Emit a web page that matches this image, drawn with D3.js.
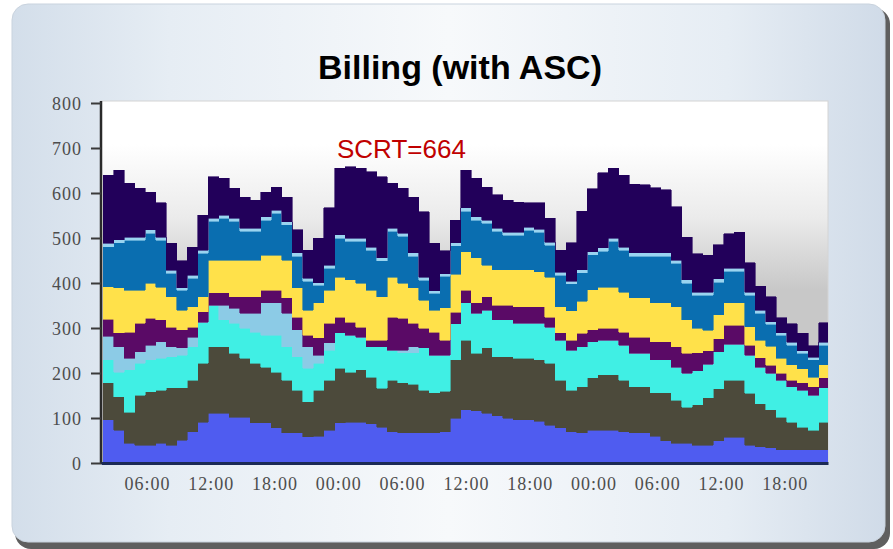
<!DOCTYPE html>
<html>
<head>
<meta charset="utf-8">
<style>
  body { margin: 0; background: #fff; }
  svg { display: block; }
  .axis text { font-family: "Liberation Serif", "DejaVu Serif", serif; font-size: 18px; fill: #4d4d4d; letter-spacing: 1px; }
  .layer { shape-rendering: crispEdges; }
</style>
</head>
<body>
<div id="chart"></div>
<script src="https://cdn.jsdelivr.net/npm/d3@7/dist/d3.min.js"></script>
<script>

// layers from bottom to top, one value per hourly step
var keys = ["blue", "brown", "cyan", "lightblue", "purple", "yellow", "steel", "sky", "navy"];
var colors = ["#4f5cf0", "#4c4a3b", "#40efe4", "#8ccbe6", "#5a0a66", "#ffe14a", "#0a6eb0", "#9ad4f0", "#22005a"];

var blue = [96,73,44,40,40,44,40,51,69,91, 111,111,102,102,89,89,78,67,67,58, 60,73,89,91,91,87,80,69,67,67,
  67,67,69,100,118,116,111,105,100,96, 96,93,84,78,69,67,73,73,73,70, 67,67,60,50,44,44,40,40,50,57, 57,40,36,34,30,29,29,29,29];
var brown = [82,74,69,111,118,118,127,116,115,131, 147,147,142,131,133,124,124,117,95,78, 102,111,122,111,116,104,86,115,111,108,
  95,89,91,130,155,128,145,131,136,137, 137,137,138,106,93,103,117,123,123,114, 102,102,96,106,96,80,90,105,115,127, 127,115,96,84,72,62,51,44,62];
var cyan = [52,55,94,71,71,71,69,73,74,91, 93,60,67,67,69,71,82,74,74,75, 60,67,78,82,73,67,92,67,67,70,
  94,84,80,80,83,89,84,82,82,78, 78,81,80,89,89,88,80,77,77,78, 75,75,73,73,73,76,75,75,82,80, 80,85,81,82,82,78,82,78,76];
var lightblue = [52,56,26,25,33,36,22,16,22,0, 0,33,33,33,42,72,72,75,60,47, 18,16,0,0,0,0,0,0,6,13,
  0,0,0,0,0,0,0,0,0,0, 0,0,0,0,0,0,0,0,0,0, 0,0,0,0,0,0,0,0,0,0, 0,0,0,0,0,0,0,0,0];
var purple = [38,31,58,64,60,49,44,40,22,23, 27,27,25,36,36,28,28,34,28,26, 38,44,35,29,22,15,15,73,71,53,
  44,51,33,25,28,23,29,33,33,36, 36,36,22,16,22,30,26,27,27,29, 36,36,40,40,45,44,40,30,29,42, 42,22,21,17,16,15,16,18,22];
var yellow = [72,100,93,73,78,73,67,44,45,33, 73,73,82,82,82,78,78,84,65,56, 78,73,89,94,98,111,96,89,78,78,
  62,49,72,85,85,100,71,78,78,82, 82,78,89,58,65,72,89,91,91,89, 87,87,87,87,89,74,55,45,54,50, 50,41,39,42,33,34,32,22,29];
var steel = [89,100,111,111,111,104,53,44,64,97, 86,93,86,64,64,78,93,78,71,64, 39,49,87,86,93,89,80,102,104,71,
  44,37,70,63,91,84,93,86,77,77, 88,88,71,70,60,63,78,80,102,93, 93,93,104,104,97,82,73,78,72,70, 70,70,60,49,51,44,34,38,44];
var sky = [7,7,7,7,7,7,6,6,6,7, 7,7,7,7,7,7,7,7,7,7, 6,7,7,7,7,7,7,7,7,7,
  7,6,6,7,7,7,7,7,7,7, 7,7,7,7,6,7,7,7,7,7, 7,7,7,7,7,7,7,7,7,7, 7,7,7,6,6,6,6,6,6];
var navy = [152,155,120,109,84,76,60,60,62,78, 92,82,67,69,62,55,51,55,51,62, 98,127,148,158,155,167,180,100,100,124,
  145,105,51,50,84,86,73,74,71,67, 54,58,53,49,85,130,140,167,155,160, 153,151,145,140,118,95,85,82,76,77, 80,65,53,55,33,42,38,26,44];

var series = [blue, brown, cyan, lightblue, purple, yellow, steel, sky, navy];

// time in hours since midnight of day one
var startHour = 1.86, stepHours = 0.99;
var tickHours = [6, 12, 18, 24, 30, 36, 42, 48, 54, 60, 66];
var yTicks = [0, 100, 200, 300, 400, 500, 600, 700, 800];

var W = 893, H = 549;
var plot = { left: 101, right: 828, top: 101, bottom: 463 };

var svg = d3.select("#chart").append("svg")
  .attr("width", W)
  .attr("height", H);

var defs = svg.append("defs");

var cardGrad = defs.append("linearGradient").attr("id", "cardGrad")
  .attr("x1", 0).attr("x2", 1).attr("y1", 0).attr("y2", 0);
cardGrad.append("stop").attr("offset", "0%").attr("stop-color", "#d3deea");
cardGrad.append("stop").attr("offset", "18%").attr("stop-color", "#e6edf4");
cardGrad.append("stop").attr("offset", "50%").attr("stop-color", "#f7f9fb");
cardGrad.append("stop").attr("offset", "82%").attr("stop-color", "#e6edf4");
cardGrad.append("stop").attr("offset", "100%").attr("stop-color", "#d0dbe8");

var plotGrad = defs.append("linearGradient").attr("id", "plotGrad")
  .attr("x1", 0).attr("x2", 0).attr("y1", 0).attr("y2", 1);
plotGrad.append("stop").attr("offset", "0%").attr("stop-color", "#ffffff");
plotGrad.append("stop").attr("offset", "12%").attr("stop-color", "#ffffff");
plotGrad.append("stop").attr("offset", "32%").attr("stop-color", "#ebebeb");
plotGrad.append("stop").attr("offset", "52%").attr("stop-color", "#c8c8c8");
plotGrad.append("stop").attr("offset", "100%").attr("stop-color", "#c8c8c8");

defs.append("clipPath").attr("id", "plotClip")
  .append("rect")
  .attr("x", plot.left).attr("y", plot.top)
  .attr("width", plot.right - plot.left).attr("height", plot.bottom - plot.top);

// card with dark shadow below
svg.append("rect")
  .attr("x", 15).attr("y", 8).attr("width", 875).attr("height", 541)
  .attr("rx", 16).attr("fill", "#5f5f5f");
svg.append("rect")
  .attr("x", 12).attr("y", 4).attr("width", 873).attr("height", 538)
  .attr("rx", 16).attr("fill", "url(#cardGrad)")
  .attr("stroke", "#c9d3de").attr("stroke-width", 1);

// plot background
svg.append("rect")
  .attr("x", plot.left).attr("y", plot.top)
  .attr("width", plot.right - plot.left).attr("height", plot.bottom - plot.top)
  .attr("fill", "url(#plotGrad)")
  .attr("stroke", "#d4d4d4");

// scales
var x = d3.scaleLinear()
  .domain([1.67, 70.07])
  .range([plot.left, plot.right]);

var y = d3.scaleLinear()
  .domain([0, 800])
  .range([plot.bottom, 103]);

// rows for the stack, plus a closing row so the last step is drawn
var rows = blue.map(function(d, i) {
  var row = { t: startHour + i * stepHours };
  keys.forEach(function(k, j) { row[k] = series[j][i]; });
  return row;
});
var last = Object.assign({}, rows[rows.length - 1]);
last.t = startHour + rows.length * stepHours;
rows.push(last);

var stacked = d3.stack().keys(keys)(rows);

var area = d3.area()
  .curve(d3.curveStepAfter)
  .x(function(d) { return x(d.data.t); })
  .y0(function(d) { return y(d[0]); })
  .y1(function(d) { return y(d[1]); });

svg.append("g")
  .attr("clip-path", "url(#plotClip)")
  .selectAll("path")
  .data(stacked)
  .enter().append("path")
  .attr("class", "layer")
  .attr("fill", function(d, i) { return colors[i]; })
  .attr("stroke", function(d, i) { return colors[i]; })
  .attr("stroke-width", 0.6)
  .attr("d", area);

// axes
var yAxis = d3.axisLeft(y)
  .tickValues(yTicks)
  .tickSize(10)
  .tickSizeOuter(0)
  .tickPadding(9);

var gy = svg.append("g")
  .attr("class", "axis")
  .attr("transform", "translate(" + plot.left + ",0)")
  .call(yAxis);
gy.select(".domain").attr("stroke", "#2a2a2a").attr("stroke-width", 2.5)
  .attr("d", "M0," + (plot.top) + "V" + (plot.bottom + 1));
gy.selectAll(".tick line").attr("stroke", "#3a3a3a").attr("stroke-width", 2);
gy.selectAll(".tick text").attr("dy", "0.36em");

var xAxis = d3.axisBottom(x)
  .tickValues(tickHours)
  .tickSize(0)
  .tickSizeOuter(0)
  .tickPadding(14)
  .tickFormat(function(h) { return d3.format("02")(h % 24) + ":00"; });

var gx = svg.append("g")
  .attr("class", "axis")
  .attr("transform", "translate(0," + plot.bottom + ")")
  .call(xAxis);
gx.select(".domain").attr("stroke", "#1b2a55").attr("stroke-width", 3);

// title and annotation
svg.append("text")
  .attr("x", 460)
  .attr("y", 79)
  .attr("text-anchor", "middle")
  .style("font-family", "'Liberation Sans', Arial, sans-serif")
  .style("font-weight", "bold")
  .style("font-size", "34px")
  .style("fill", "#000")
  .text("Billing (with ASC)");

svg.append("text")
  .attr("x", 337)
  .attr("y", 158)
  .style("font-family", "'Liberation Sans', Arial, sans-serif")
  .style("font-size", "26px")
  .style("fill", "#c00000")
  .text("SCRT=664");

</script>
</body>
</html>
